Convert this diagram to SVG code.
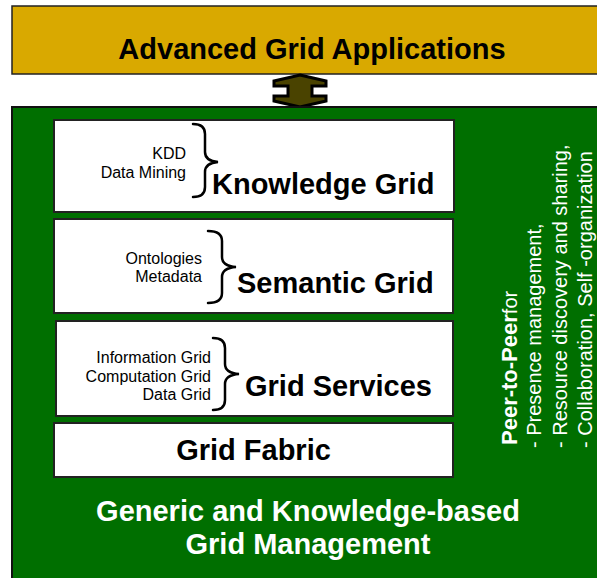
<svg xmlns="http://www.w3.org/2000/svg" width="597" height="578" viewBox="0 0 597 578">
<style>
.box{fill:#fff;stroke:#222;stroke-width:2}
.big{font-family:"Liberation Sans",Arial,sans-serif;font-weight:bold;font-size:29px;fill:#000}
.small{font-family:"Liberation Sans",Arial,sans-serif;font-size:16px;fill:#000;text-anchor:end}
.brace{fill:none;stroke:#000;stroke-width:2.5;stroke-linecap:round}
.white{font-family:"Liberation Sans",Arial,sans-serif;fill:#fff;font-size:20px}
</style>
<rect width="597" height="578" fill="#fff"/>
<g id="apps">
<rect x="12" y="6" width="600" height="68" fill="#D9A900" stroke="#222" stroke-width="1.5"/>
<text class="big" x="312" y="59" text-anchor="middle">Advanced Grid Applications</text>
</g>
<g id="connectors">
<path d="M300,75 L326,81 L326,86 L312,86 L312,96 L326,96 L326,101 L300,107 L274,101 L274,96 L288,96 L288,86 L274,86 L274,81 Z" fill="#4A4300" stroke="#000" stroke-width="3" stroke-linejoin="miter"/>
</g>
<g id="management">
<rect x="12" y="107" width="600" height="480" fill="#006F00" stroke="#111" stroke-width="2"/>
<text class="big" x="308" y="521" text-anchor="middle" fill="#fff" style="fill:#fff">Generic and Knowledge-based</text>
<text class="big" x="308" y="554" text-anchor="middle" style="fill:#fff">Grid Management</text>
</g>
<g id="knowledge">
<rect class="box" x="54" y="120" width="400" height="92"/>
<text class="small" x="186" y="159">KDD</text>
<text class="small" x="186" y="178">Data Mining</text>
<path class="brace" d="M193,124 Q205,124 205,134 L205,152 Q205,161 218,162 Q205,163 205,172 L205,187 Q205,197 193,197"/>
<text class="big" x="212" y="194">Knowledge Grid</text>
</g>
<g id="semantic">
<rect class="box" x="54" y="219" width="399" height="94"/>
<text class="small" x="202" y="264">Ontologies</text>
<text class="small" x="202" y="282">Metadata</text>
<path class="brace" d="M208,231 Q222,231 222,241 L222,257 Q222,266 236,267 Q222,268 222,277 L222,293 Q222,303 208,303"/>
<text class="big" x="237" y="293">Semantic Grid</text>
</g>
<g id="services">
<rect class="box" x="56" y="321" width="397" height="95"/>
<text class="small" x="211" y="363">Information Grid</text>
<text class="small" x="211" y="382">Computation Grid</text>
<text class="small" x="211" y="400">Data Grid</text>
<path class="brace" d="M213,338 Q225,338 225,348 L225,364 Q225,373 239,374 Q225,375 225,384 L225,400 Q225,410 213,410"/>
<text class="big" x="245" y="396">Grid Services</text>
</g>
<g id="fabric">
<rect class="box" x="54" y="423" width="399" height="54"/>
<text class="big" x="253.5" y="460" text-anchor="middle">Grid Fabric</text>
</g>
<g id="p2p">
<text class="white" transform="translate(517,445) rotate(-90)"><tspan font-weight="bold" font-size="22">Peer-to-Peer</tspan>for</text>
<text class="white" transform="translate(541,448) rotate(-90)">- Presence management,</text>
<text class="white" transform="translate(567,448) rotate(-90)">- Resource discovery and sharing,</text>
<text class="white" transform="translate(592,448) rotate(-90)">- Collaboration, Self -organization</text>
</g>
</svg>
